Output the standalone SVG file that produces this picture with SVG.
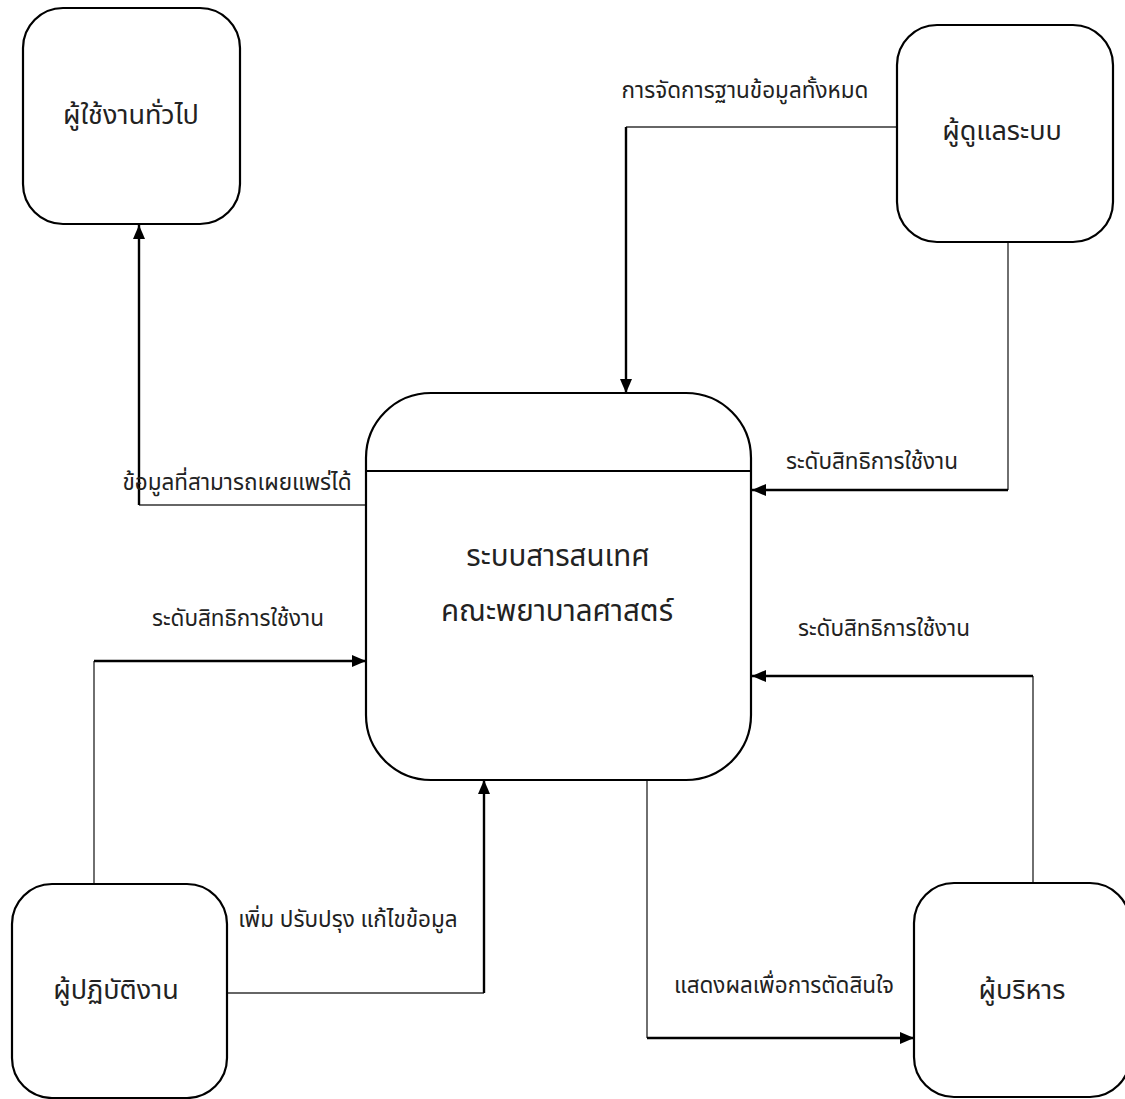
<svg xmlns="http://www.w3.org/2000/svg" width="1125" height="1099" viewBox="0 0 1125 1099">
  <style>
    .node { fill: #ffffff; stroke: #000000; stroke-width: 2.2; }
    .thin { fill: none; stroke: #333333; stroke-width: 1.4; }
    .thick { fill: none; stroke: #000000; stroke-width: 2.4; }
    .ntext { font-family: "Noto Sans Thai", "Noto Sans", "DejaVu Sans", sans-serif; font-size: 27px; fill: #222222; text-anchor: middle; }
    .ctext { font-family: "Noto Sans Thai", "Noto Sans", "DejaVu Sans", sans-serif; font-size: 29.5px; fill: #222222; text-anchor: middle; }
    .ltext { font-family: "Noto Sans Thai", "Noto Sans", "DejaVu Sans", sans-serif; font-size: 22.5px; fill: #222222; text-anchor: middle; }
  </style>
  <defs>
    <marker id="arrow" markerWidth="14" markerHeight="12" refX="14" refY="6" orient="auto" markerUnits="userSpaceOnUse">
      <path d="M0,0 L14,6 L0,12 Z" fill="#000000"/>
    </marker>
  </defs>

  <!-- Connectors: thin lead-in segment, thick final segment carrying the arrowhead -->
  <g id="connectors">
    <!-- system -> general users -->
    <path class="thin" d="M366,505 L139,505"/>
    <path class="thick" d="M139,505 L139,225" marker-end="url(#arrow)"/>
    <text class="ltext" x="237" y="490">ข้อมูลที่สามารถเผยแพร่ได้</text>

    <!-- administrator -> system (database management) -->
    <path class="thin" d="M897,127 L626,127"/>
    <path class="thick" d="M626,127 L626,393" marker-end="url(#arrow)"/>
    <text class="ltext" x="745" y="98">การจัดการฐานข้อมูลทั้งหมด</text>

    <!-- administrator -> system (access rights) -->
    <path class="thin" d="M1008,242 L1008,490"/>
    <path class="thick" d="M1008,490 L752,490" marker-end="url(#arrow)"/>
    <text class="ltext" x="872" y="469">ระดับสิทธิการใช้งาน</text>

    <!-- operator -> system (access rights) -->
    <path class="thin" d="M94,884 L94,661"/>
    <path class="thick" d="M94,661 L366,661" marker-end="url(#arrow)"/>
    <text class="ltext" x="238" y="626">ระดับสิทธิการใช้งาน</text>

    <!-- operator -> system (add / update / edit) -->
    <path class="thin" d="M227,993 L484,993"/>
    <path class="thick" d="M484,993 L484,780" marker-end="url(#arrow)"/>
    <text class="ltext" x="348" y="927">เพิ่ม ปรับปรุง แก้ไขข้อมูล</text>

    <!-- system -> executives -->
    <path class="thin" d="M647,780 L647,1038"/>
    <path class="thick" d="M647,1038 L914,1038" marker-end="url(#arrow)"/>
    <text class="ltext" x="784" y="993">แสดงผลเพื่อการตัดสินใจ</text>

    <!-- executives -> system (access rights) -->
    <path class="thin" d="M1033,883 L1033,676"/>
    <path class="thick" d="M1033,676 L752,676" marker-end="url(#arrow)"/>
    <text class="ltext" x="884" y="636">ระดับสิทธิการใช้งาน</text>
  </g>

  <g id="general-users">
    <rect class="node" x="23" y="8" width="217" height="216" rx="40" ry="40"/>
    <text class="ntext" x="131" y="124">ผู้ใช้งานทั่วไป</text>
  </g>

  <g id="administrator">
    <rect class="node" x="897" y="25" width="216" height="217" rx="40" ry="40"/>
    <text class="ntext" x="1002" y="140">ผู้ดูแลระบบ</text>
  </g>

  <g id="information-system">
    <rect class="node" x="366" y="393" width="385" height="387" rx="65" ry="65"/>
    <line x1="366" y1="471" x2="751" y2="471" stroke="#000000" stroke-width="2.2"/>
    <text class="ctext" x="558" y="566">ระบบสารสนเทศ</text>
    <text class="ctext" x="557" y="621">คณะพยาบาลศาสตร์</text>
  </g>

  <g id="operator">
    <rect class="node" x="12" y="884" width="215" height="214" rx="40" ry="40"/>
    <text class="ntext" x="116" y="999">ผู้ปฏิบัติงาน</text>
  </g>

  <g id="executives">
    <rect class="node" x="914" y="883" width="216" height="214" rx="40" ry="40"/>
    <text class="ntext" x="1022" y="999">ผู้บริหาร</text>
  </g>
</svg>
